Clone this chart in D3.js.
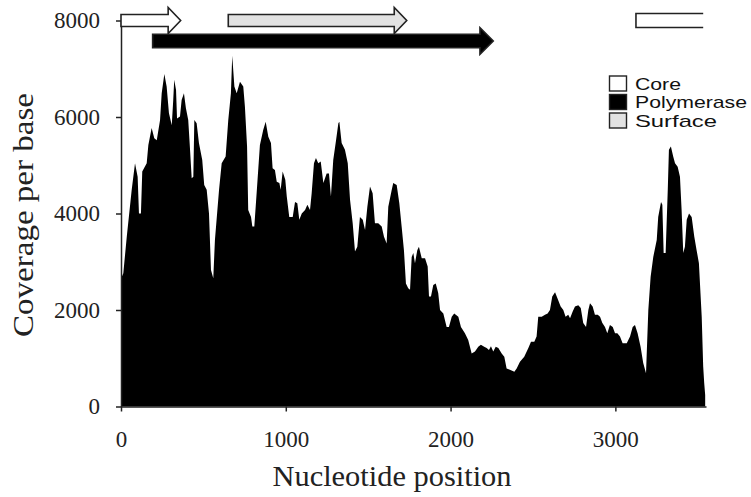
<!DOCTYPE html>
<html>
<head>
<meta charset="utf-8">
<script src="https://cdn.jsdelivr.net/npm/d3@7"></script>
<style>
  body { margin: 0; background: #fff; }
</style>
</head>
<body>
<div id="chart_area"></div>
<script>
var width = 751
var height = 497

// Coverage data (nucleotide position -> coverage per base)
var positions = [0,14,35,65,85,101,109,121,129,156,
  166,186,202,217,237,247,263,277,291,308,
  317,323,334,340,358,368,382,394,408,419,
  429,439,445,459,473,493,505,520,534,546,
  560,570,595,611,635,651,667,675,688,702,
  722,742,752,765,772,789,797,809,823,843,
  863,878,894,910,920,934,945,961,969,981,
  997,1006,1021,1042,1056,1070,1082,1097,1117,1131,
  1147,1157,1171,1183,1197,1212,1228,1248,1262,1274,
  1288,1305,1319,1325,1339,1359,1376,1390,1406,1420,
  1434,1450,1467,1481,1495,1511,1527,1541,1561,1582,
  1596,1612,1622,1643,1652,1673,1689,1703,1717,1729,
  1743,1754,1764,1774,1784,1798,1808,1825,1845,1861,
  1869,1881,1895,1910,1925,1936,1956,1976,1990,2007,
  2022,2047,2063,2087,2107,2128,2148,2168,2184,2204,
  2219,2233,2245,2259,2274,2290,2310,2326,2340,2360,
  2387,2401,2421,2447,2472,2488,2508,2522,2532,2553,
  2573,2589,2603,2617,2634,2652,2668,2684,2698,2714,
  2725,2741,2755,2775,2790,2805,2822,2836,2846,2862,
  2876,2893,2907,2921,2937,2951,2967,2984,2998,3012,
  3028,3044,3069,3089,3105,3119,3135,3153,3169,3186,
  3200,3214,3230,3251,3260,3277,3285,3293,3305,3318,
  3325,3337,3351,3362,3378,3392,3402,3412,3422,3433,
  3447,3463,3479,3493,3507,3524,3533,3539,3545]

var coverage = [2650,2760,3520,4490,5040,4760,4000,4000,4870,5040,
  5420,5770,5560,5520,5940,6490,6890,6630,6080,5830,
  6350,6770,6560,5970,6010,6350,6490,6180,5940,5320,
  4730,4760,5940,5870,5460,5110,4590,4490,4000,2830,
  2660,3450,4490,5040,5180,5940,6490,7270,6630,6490,
  6730,6630,6210,5390,4070,3930,3730,3730,4420,5420,
  5730,5900,5590,5460,4940,4900,4660,4630,4490,4870,
  4700,4350,3930,3930,4240,4210,3870,4000,4070,4180,
  4070,4420,5040,5150,5040,5080,4630,4830,4830,4350,
  5110,5520,5870,5900,5460,5320,5040,4280,3800,3210,
  3310,3930,3870,3660,4140,4560,4420,3800,3800,3730,
  3520,3380,4140,4490,4630,4590,4210,3730,3240,2550,
  2450,2420,3100,3180,2970,3240,3310,3070,3070,2900,
  2280,2280,2520,2550,2350,2000,1930,1650,1650,1860,
  1930,1860,1650,1520,1380,1100,1140,1240,1280,1240,
  1210,1170,1250,1140,1240,1210,1100,1030,790,760,
  720,790,930,1030,1210,1340,1340,1450,1860,1860,
  1900,1930,2000,2280,2370,2210,2070,2000,1860,1900,
  1830,1970,2070,2100,2040,1730,1650,2000,2140,2070,
  1900,1900,1860,1730,1650,1520,1690,1650,1520,1520,
  1450,1310,1310,1450,1650,1690,1520,1240,900,690,
  2000,2690,3100,3450,3930,4240,4180,3180,3180,4490,
  5320,5390,5180,5040,4970,4760,4070,3180,3310,3870,
  4000,3930,3520,3240,2970,1860,830,490,240]

// Gene annotation
var geneNames = ["Core", "Polymerase", "Surface", "Core"]
var geneStart = [0, 192, 651, 3125]
var geneEnd = [362, 2259, 1734, 3533]
var geneOpenEnd = [false, false, false, true]

// Axes
var xTicks = [0, 1000, 2000, 3000]
var yTicks = [0, 2000, 4000, 6000, 8000]
var legendNames = ["Core", "Polymerase", "Surface"]

var geneStyle = {
  "Core": {fill: "#ffffff", lane: 0},
  "Polymerase": {fill: "#000000", lane: 1},
  "Surface": {fill: "#e2e2e2", lane: 0}
}

var svg = d3.select("#chart_area")
  .append("svg")
  .attr("width", width)
  .attr("height", height)
  .style("background", "#fff")

var x = d3.scaleLinear().domain([0, 3550]).range([121, 706])
var y = d3.scaleLinear().domain([0, 8000]).range([406.5, 20.5])

var data = positions.map((p, i) => ({pos: p, cov: coverage[i]}))

// coverage area
var area = d3.area()
  .x(d => x(d.pos))
  .y0(y(0))
  .y1(d => y(d.cov))

svg.append("path")
  .datum(data)
  .attr("d", area)
  .attr("fill", "#000")

// axes
var axisColor = "#222"

var gx = svg.append("g")
  .attr("transform", "translate(0," + y(0) + ")")
  .call(d3.axisBottom(x).tickValues(xTicks).tickSize(5).tickSizeOuter(0).tickFormat(d3.format("d")))

gx.selectAll("text")
  .attr("y", 40)
  .attr("dy", 0)

var gy = svg.append("g")
  .attr("transform", "translate(" + x(0) + ",0)")
  .call(d3.axisLeft(y).tickValues(yTicks).tickSize(5).tickSizeOuter(0).tickPadding(16).tickFormat(d3.format("d")))

svg.selectAll(".domain, .tick line")
  .attr("stroke", axisColor)
  .attr("stroke-width", 1.5)

svg.selectAll(".tick text")
  .attr("fill", "#222")
  .style("font-family", "'Liberation Serif', 'Times New Roman', serif")
  .style("font-size", "23px")

// axis titles
svg.append("text")
  .attr("x", 392)
  .attr("y", 486)
  .attr("text-anchor", "middle")
  .attr("textLength", 239)
  .attr("lengthAdjust", "spacingAndGlyphs")
  .attr("fill", "#222")
  .style("font-family", "'Liberation Serif', 'Times New Roman', serif")
  .style("font-size", "30px")
  .text("Nucleotide position")

svg.append("text")
  .attr("transform", "translate(33,215) rotate(-90)")
  .attr("text-anchor", "middle")
  .attr("textLength", 244)
  .attr("lengthAdjust", "spacingAndGlyphs")
  .attr("fill", "#222")
  .style("font-family", "'Liberation Serif', 'Times New Roman', serif")
  .style("font-size", "30px")
  .text("Coverage per base")

// gene arrows
var lanes = [{cy: 20.5, body: 6, head: 13, len: 12.5}, {cy: 41, body: 6.7, head: 13.3, len: 13.3}]

function arrowPath (x0, x1, l, open) {
  if (open) {
    return "M" + x1 + "," + (l.cy - 7) + "L" + x0 + "," + (l.cy - 7) +
      "L" + x0 + "," + (l.cy + 7) + "L" + x1 + "," + (l.cy + 7)
  }
  var hb = x1 - l.len
  return "M" + x0 + "," + (l.cy - l.body) +
    "L" + hb + "," + (l.cy - l.body) +
    "L" + hb + "," + (l.cy - l.head) +
    "L" + x1 + "," + l.cy +
    "L" + hb + "," + (l.cy + l.head) +
    "L" + hb + "," + (l.cy + l.body) +
    "L" + x0 + "," + (l.cy + l.body) + "Z"
}

geneNames.forEach((name, i) => {
  var st = geneStyle[name]
  svg.append("path")
    .attr("d", arrowPath(x(geneStart[i]), x(geneEnd[i]), lanes[st.lane], geneOpenEnd[i]))
    .attr("fill", st.fill)
    .attr("stroke", "#222")
    .attr("stroke-width", 1.6)
})

// legend
var legendY = [76, 94.5, 113]
var legendW = [46, 112, 82]
legendNames.forEach((name, i) => {
  svg.append("rect")
    .attr("x", 609.5)
    .attr("y", legendY[i])
    .attr("width", 17)
    .attr("height", 15)
    .attr("fill", geneStyle[name].fill)
    .attr("stroke", "#222")
    .attr("stroke-width", 1.4)
  svg.append("text")
    .attr("x", 635)
    .attr("y", legendY[i] + 13.5)
    .attr("textLength", legendW[i])
    .attr("lengthAdjust", "spacingAndGlyphs")
    .attr("fill", "#111")
    .style("font-family", "'Liberation Sans', Arial, sans-serif")
    .style("font-size", "17px")
    .text(name)
})
</script>
</body>
</html>
